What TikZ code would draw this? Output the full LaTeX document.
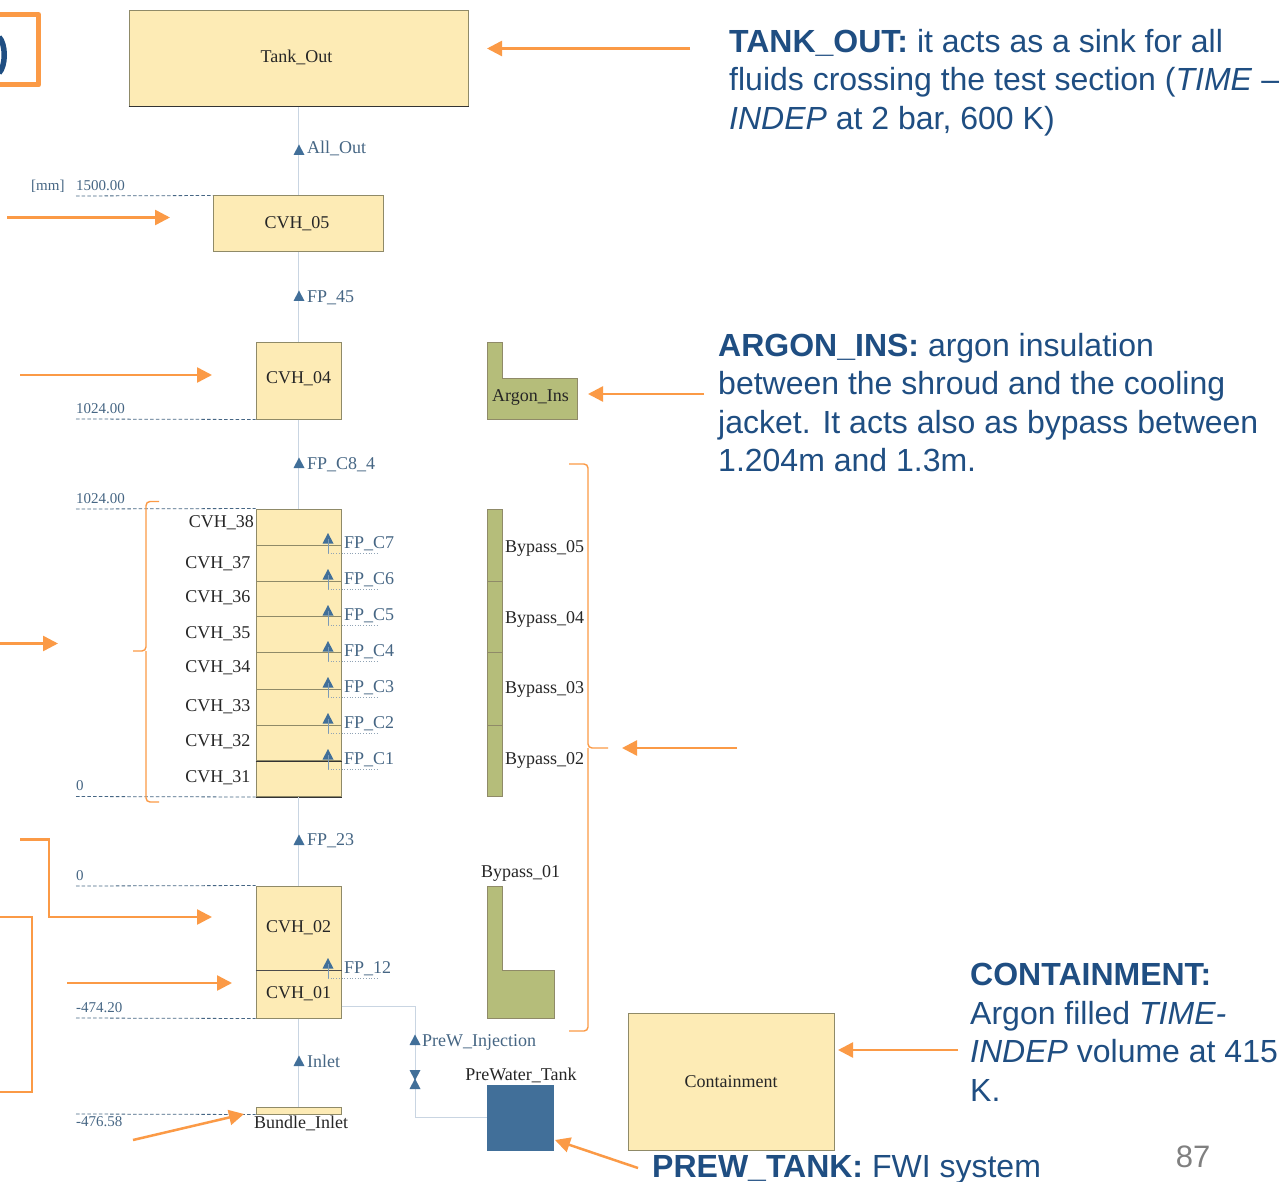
\documentclass[tikz,border=0pt]{standalone}
\usepackage{fontspec}
\setmainfont{Liberation Serif}
\newfontfamily\slidefont{Liberation Sans}
\usetikzlibrary{arrows.meta}
\definecolor{oran}{HTML}{FB9A46}
\definecolor{navy}{HTML}{1F4E82}
\definecolor{fluid}{HTML}{416F99}
\definecolor{pale}{HTML}{FDEBB5}
\definecolor{olive}{HTML}{B5BD7A}
\definecolor{edgeb}{HTML}{8F8A68}
\definecolor{pipe}{HTML}{C9D5E2}
\definecolor{tagc}{HTML}{466684}
\tikzset{
 x=1pt,y=-1pt,
 cell/.style={draw=edgeb,line width=1pt,fill=pale,inner sep=0pt,font=\fontsize{18}{21}\selectfont,text=black!85},
 bycell/.style={draw=edgeb,line width=1pt,fill=olive,inner sep=0pt},
 pipeline/.style={draw=pipe,line width=1.6pt},
 thinpipe/.style={draw=pipe,line width=1pt},
 tag/.style={font=\fontsize{18}{21}\selectfont,text=tagc,inner sep=0pt,anchor=west},
 cvh/.style={font=\fontsize{18}{21}\selectfont,text=black!85,inner sep=0pt},
 level/.style={font=\fontsize{15}{17}\selectfont,text=tagc,inner sep=0pt,anchor=west},
 datum/.style={draw=tagc,line width=.8pt,dash pattern=on 3.5pt off 2.2pt},
 oarrow/.style={draw=oran,line width=2.5pt,-{Triangle[length=15pt,width=15pt]}},
 obrace/.style={draw=oran,line width=1.4pt,rounded corners=4pt},
 note/.style={font=\fontsize{32}{38.5}\selectfont\slidefont,text=navy,inner sep=0pt,align=left,anchor=north west},
 up/.pic={\fill[fluid] (-5.5,5)--(5.5,5)--(0,-5.5)--cycle;},
 down/.pic={\fill[fluid] (-5.5,-5)--(5.5,-5)--(0,5.5)--cycle;},
}
\begin{document}
\begin{tikzpicture}
\useasboundingbox (0,0) rectangle (1282,1182);
\fill[white] (0,0) rectangle (1282,1182);

% boxes
\node[cell,minimum width=339pt,minimum height=96pt] (tankout) at (298.5,58.5) {\hspace{-4pt}\raisebox{4pt}{Tank\_Out}};
\node[cell,minimum width=170pt,minimum height=56pt] (c05) at (298.5,224) {\hspace{-3pt}\raisebox{1.5pt}{CVH\_05}};
\node[cell,minimum width=85pt,minimum height=77pt] (c04) at (298.5,380.5) {\raisebox{5pt}{CVH\_04}};
\foreach \n/\t/\b in {38/509/545,37/545/581,36/581/616.5,35/616.5/652.5,34/652.5/689,33/689/725,32/725/760.5,31/760.5/796.5}{
  \node[cell,minimum width=85pt,minimum height={(\b-\t)*1pt}] (c\n) at (298.5,{(\t+\b)/2}) {};
}
\node[cell,minimum width=85pt,minimum height=84pt] (c02) at (298.5,928) {CVH\_02};
\node[cell,minimum width=85pt,minimum height=48pt] (c01) at (298.5,994) {CVH\_01};
\node[cell,minimum width=85pt,minimum height=7pt] (binlet) at (298.5,1110.5) {};
\foreach \n/\t/\b in {05/509/581,04/581/652.5,03/652.5/725,02/725/796.5}{
  \node[bycell,minimum width=15pt,minimum height={(\b-\t)*1pt}] (b\n) at (495,{(\t+\b)/2}) {};
}
\node[fill=fluid,minimum width=67pt,minimum height=66pt,inner sep=0pt] (ptank) at (520.5,1118) {};
\node[cell,minimum width=206pt,minimum height=137pt] (cont) at (731,1082) {Containment};
\filldraw[draw=edgeb,line width=1pt,fill=olive] (487.5,342)--(502.5,342)--(502.5,378)--(577.5,378)--(577.5,419)--(487.5,419)--cycle;
\filldraw[draw=edgeb,line width=1pt,fill=olive] (487.5,886)--(502.5,886)--(502.5,970)--(554,970)--(554,1018)--(487.5,1018)--cycle;

% darker edges seen in the reference
\draw[black!80,line width=1pt] (tankout.south west) -- (tankout.south east);
\draw[black!80,line width=1pt] (c32.south west) -- (c32.south east);
\draw[black!80,line width=1pt] (c31.south west) -- (c31.south east);
\draw[black!70,line width=1.3pt] (c02.south west) -- (c02.south east);

% pipes
\draw[pipeline] (tankout.south) -- (c05.north);
\draw[pipeline] (c05.south) -- (c04.north);
\draw[pipeline] (c04.south) -- (c38.north);
\draw[pipeline] (c31.south) -- (c02.north);
\draw[pipeline] (c01.south) -- (binlet.north);
\coordinate (pw1) at (415,1006);
\coordinate (pw2) at (415,1117);
\draw[thinpipe] (c01.east |- pw1) -- (pw1) -- (pw2) -- (ptank.west |- pw2);

% flow triangles and tags
\pic at (299,150) {up}; \node[tag] (tAll) at (307,148) {All\_Out};
\pic at (299,296) {up}; \node[tag] (t45) at (307,298) {FP\_45};
\pic at (299,463) {up}; \node[tag] (tC8) at (307,465) {FP\_C8\_4};
\pic at (299,840) {up}; \node[tag] (t23) at (307,841) {FP\_23};
\pic at (299,1061) {up}; \node[tag] (tIn) at (307,1061) {Inlet};
\pic at (415,1040) {up}; \node[tag] (tPre) at (422,1042) {PreW\_Injection};
\pic at (415,1075) {down}; \pic at (415,1084) {up};
\foreach \k/\y in {7/538.5,6/574.5,5/610.5,4/646.5,3/682.5,2/718.5,1/754.5}{
  \pic at (328,\y) {up};
  \draw[fluid!70,line width=.7pt] (328,\y) -- ++(0,14.5);
  \draw[tagc!60,line width=.7pt,dotted] (328,\y+14.5) -- ++(49,0);
  \node[tag] (tC\k) at (344,\y+5.5) {FP\_C\k};
}
\pic at (328,963.5) {up};
\draw[fluid!70,line width=.7pt] (328,963.5) -- ++(0,15);
\draw[tagc!60,line width=.7pt,dotted] (328,978.5) -- ++(49,0);
\node[tag] (t12) at (344,969) {FP\_12};

% CVH labels
\node[cvh,anchor=east] (l38) at (254,523) {CVH\_38};
\node[cvh,anchor=east] (l37) at (250.5,564) {CVH\_37};
\node[cvh,anchor=east] (l36) at (250.5,598) {CVH\_36};
\node[cvh,anchor=east] (l35) at (250.5,634) {CVH\_35};
\node[cvh,anchor=east] (l34) at (250.5,668) {CVH\_34};
\node[cvh,anchor=east] (l33) at (250.5,707) {CVH\_33};
\node[cvh,anchor=east] (l32) at (250.5,742) {CVH\_32};
\node[cvh,anchor=east] (l31) at (250.5,778) {CVH\_31};
\node[cvh,anchor=west] (lb5) at (505,548) {Bypass\_05};
\node[cvh,anchor=west] (lb4) at (505,619) {Bypass\_04};
\node[cvh,anchor=west] (lb3) at (505,689) {Bypass\_03};
\node[cvh,anchor=west] (lb2) at (505,760) {Bypass\_02};
\node[cvh] (lb1) at (520.5,873) {Bypass\_01};
\node[cvh] (lar) at (530.5,397) {Argon\_Ins};
\node[cvh] (lpt) at (521,1075) {PreWater\_Tank};
\node[cvh] (lbi) at (301,1123) {Bundle\_Inlet};

% levels
\coordinate (d1) at (76,196);\coordinate (d2) at (76,419);\coordinate (d3) at (76,509);\coordinate (d4) at (76,796.5);
\coordinate (d5) at (76,886);\coordinate (d6) at (76,1018);\coordinate (d7) at (76,1114);
\draw[datum] (d1) -- (c05.north west);
\draw[datum] (d2) -- (c04.south west);
\draw[datum] (d3) -- (c38.north west);
\draw[datum] (d4) -- (c31.south west);
\draw[datum] (d5) -- (c02.north west);
\draw[datum] (d6) -- (c01.south west);
\draw[datum] (d7) -- (binlet.south west);
\node[level] (mm) at (31,186) {[mm]};
\node[level] (v1) at (76,186) {1500.00};
\node[level] (v2) at (76,409) {1024.00};
\node[level] (v3) at (76,499) {1024.00};
\node[level] (v4) at (76,786) {0};
\node[level] (v5) at (76,876) {0};
\node[level] (v6) at (76,1007.5) {-474.20};
\node[level] (v7) at (76,1122) {-476.58};

% orange braces and frame
\draw[oran,line width=5pt,line join=round] (-5,14.5) -- (38.5,14.5) -- (38.5,85) -- (-5,85);
\draw[navy,line width=5.5pt] (-1,37) .. controls (6,44) and (6,66) .. (-1,73);
\draw[obrace] (159,501.5) -- (146,501.5) -- (146,651) -- (133,651);
\draw[obrace] (146,651) -- (146,802) -- (159,802);
\draw[obrace] (569,464) -- (588,464) -- (588,748) -- (608,748);
\draw[obrace] (588,748) -- (588,1031) -- (569,1031);
\draw[draw=oran,line width=1.5pt] (-2,917) -- (32,917) -- (32,1092) -- (-2,1092);

% orange arrows
\coordinate (a1) at (690,48.5); \coordinate (a1e) at (487,48.5);
\coordinate (a2) at (7,217.5); \coordinate (a2e) at (170,217.5);
\coordinate (a3) at (20,375); \coordinate (a3e) at (212,375);
\coordinate (a4) at (704,394); \coordinate (a4e) at (588,394);
\coordinate (a5) at (-3,643.5); \coordinate (a5e) at (58,643.5);
\coordinate (a6) at (737,748); \coordinate (a6e) at (622,748);
\coordinate (a7) at (20,839.5); \coordinate (a7a) at (49,839.5); \coordinate (a7b) at (49,917); \coordinate (a7e) at (212,917);
\coordinate (a8) at (67,983); \coordinate (a8e) at (232,983);
\coordinate (a9) at (958,1050); \coordinate (a9e) at (838,1050);
\coordinate (a10) at (133,1140); \coordinate (a10e) at (244,1114);
\coordinate (a11) at (638,1168); \coordinate (a11e) at (555,1140);
\draw[oarrow] (a1) -- (a1e);
\draw[oarrow] (a2) -- (a2e);
\draw[oarrow] (a3) -- (a3e);
\draw[oarrow] (a4) -- (a4e);
\draw[oarrow] (a5) -- (a5e);
\draw[oarrow] (a6) -- (a6e);
\draw[oarrow] (a7) -- (a7a) -- (a7b) -- (a7e);
\draw[oarrow] (a8) -- (a8e);
\draw[oarrow] (a9) -- (a9e);
\draw[oarrow] (a10) -- (a10e);
\draw[oarrow] (a11) -- (a11e);

% notes
\node[note] (n1) at (729,29) {\textbf{TANK\_OUT:} it acts as a sink for all\\fluids crossing the test section (\textit{TIME} –\\\textit{INDEP} at 2 bar, 600 K)};
\node[note] (n2) at (718,333) {\textbf{ARGON\_INS:} argon insulation\\between the shroud and the cooling\\jacket. It acts also as bypass between\\1.204m and 1.3m.};
\node[note] (n3) at (970,963) {\textbf{CONTAINMENT:}\\Argon filled \textit{TIME-}\\\textit{INDEP} volume at 415\\K.};
\node[note,anchor=base west] (n4) at (652,1177) {\textbf{PREW\_TANK:} FWI system};
\node[font=\fontsize{31}{36}\selectfont\slidefont,text=black!50,inner sep=0pt] (pg) at (1193,1157) {87};
\end{tikzpicture}
\end{document}
